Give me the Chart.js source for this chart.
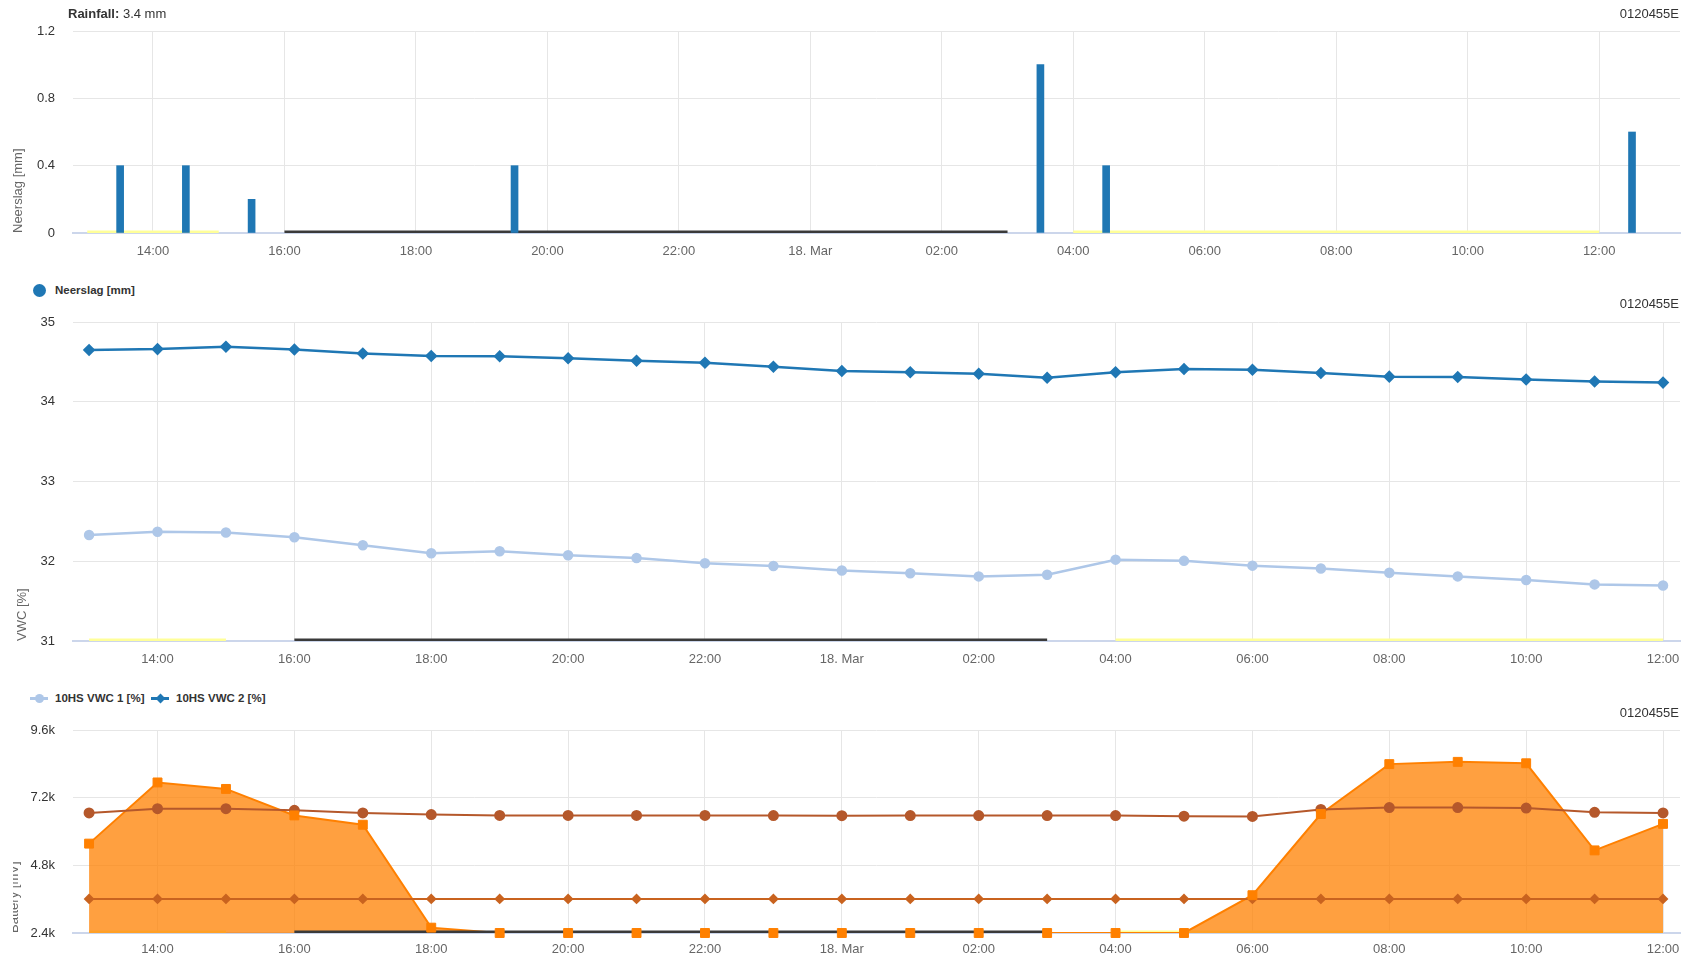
<!DOCTYPE html>
<html>
<head>
<meta charset="utf-8">
<script src="https://cdn.jsdelivr.net/npm/chart.js@4.4.1/dist/chart.umd.min.js"></script>
<style>
  body { margin: 0; background: #fff; width: 1692px; height: 962px; overflow: hidden; position: relative;
         font-family: "Liberation Sans", Arial, sans-serif; }
  canvas { position: absolute; }
  .txt { position: absolute; font-size: 13px; color: #333; line-height: 16px; white-space: nowrap; z-index: 2; }
  .sid { right: 13px; }
  .leg { position: absolute; font-size: 11.5px; font-weight: bold; color: #333; line-height: 14px; white-space: nowrap; z-index: 2; }
  .sym { position: absolute; z-index: 2; }
</style>
</head>
<body>
<canvas id="rain" width="1692" height="275" style="left:0;top:0"></canvas>
<canvas id="vwc" width="1692" height="375" style="left:0;top:300px"></canvas>
<canvas id="batt" width="1679" height="250" style="left:13px;top:712px"></canvas>

<div class="txt" style="left:68px;top:6px"><b>Rainfall:</b> 3.4 mm</div>
<div class="txt sid" style="top:6px">0120455E</div>
<div class="txt sid" style="top:296px">0120455E</div>
<div class="txt sid" style="top:705px">0120455E</div>

<div id="legend1"></div>
<div id="legend2"></div>

<script>
// hours counted from 17 Mar 00:00, so 24 = 18. Mar 00:00
var hours = [13, 14, 15, 16, 17, 18, 19, 20, 21, 22, 23, 24, 25, 26, 27, 28, 29, 30, 31, 32, 33, 34, 35, 36];
var tickHours = [14, 16, 18, 20, 22, 24, 26, 28, 30, 32, 34, 36];
var tickLabels = ['14:00', '16:00', '18:00', '20:00', '22:00', '18. Mar', '02:00', '04:00', '06:00', '08:00', '10:00', '12:00'];

// rainfall
var rainHours = [13.5, 14.5, 15.5, 19.5, 27.5, 28.5, 36.5];
var rainMm = [0.4, 0.4, 0.2, 0.4, 1.0, 0.4, 0.6];
var rainTicks = [0, 0.4, 0.8, 1.2];
var rainLabels = ['0', '0.4', '0.8', '1.2'];

// soil moisture
var vwc1 = [32.33, 32.37, 32.36, 32.30, 32.20, 32.10, 32.125, 32.075, 32.04, 31.975, 31.94, 31.885, 31.85, 31.81, 31.83, 32.02, 32.005, 31.945, 31.91, 31.855, 31.81, 31.765, 31.71, 31.695];
var vwc2 = [34.65, 34.66, 34.69, 34.655, 34.605, 34.575, 34.57, 34.545, 34.515, 34.49, 34.44, 34.385, 34.37, 34.35, 34.30, 34.37, 34.41, 34.40, 34.36, 34.315, 34.31, 34.28, 34.255, 34.24];
var vwcTicks = [31, 32, 33, 34, 35];
var vwcLabels = ['31', '32', '33', '34', '35'];

// battery / solar
var solar = [5570, 7740, 7510, 6570, 6240, 2590, 2400, 2400, 2400, 2400, 2400, 2400, 2400, 2400, 2400, 2400, 2400, 3740, 6620, 8390, 8470, 8420, 5330, 6270];
var battery = [6660, 6810, 6810, 6750, 6660, 6600, 6570, 6570, 6570, 6570, 6565, 6560, 6565, 6565, 6565, 6565, 6545, 6535, 6780, 6850, 6850, 6830, 6680, 6660];
var battery2 = [3610, 3610, 3610, 3610, 3610, 3610, 3610, 3610, 3610, 3610, 3610, 3610, 3610, 3610, 3610, 3610, 3610, 3610, 3610, 3610, 3610, 3610, 3610, 3610];
var mvTicks = [2400, 4800, 7200, 9600];
var mvLabels = ['2.4k', '4.8k', '7.2k', '9.6k'];

// day / night markers along the bottom
var daySpans = [[13, 15], [28, 36]];
var nightSpans = [[16, 27]];

var legendItems1 = [{name: 'Neerslag [mm]', color: '#1f77b4', marker: 'circle'}];
var legendItems2 = [{name: '10HS VWC 1 [%]', color: '#aec7e8', marker: 'circle'},
                    {name: '10HS VWC 2 [%]', color: '#1f77b4', marker: 'diamond'}];

Chart.defaults.font.family = '"Liberation Sans", Arial, sans-serif';
Chart.defaults.animation = false;
Chart.defaults.devicePixelRatio = 1;

function points(xs, ys) {
    return xs.map(function (x, i) { return {x: x, y: ys[i]}; });
}

function spanPoints(spans, level) {
    var out = [];
    spans.forEach(function (s, i) {
        if (i > 0) out.push({x: s[0], y: null});
        out.push({x: s[0], y: level});
        out.push({x: s[1], y: level});
    });
    return out;
}

function bandLine(spans, level, color, order) {
    return {
        type: 'line', data: spanPoints(spans, level), borderColor: color, borderWidth: 5,
        pointRadius: 0, spanGaps: false, order: order, clip: 0
    };
}

function xScale(min, max, h, pad) {
    return {
        type: 'linear', min: min, max: max, offset: false,
        afterBuildTicks: function (s) { s.ticks = tickHours.map(function (v) { return {value: v}; }); },
        afterFit: function (s) { s.height = h; },
        grid: {color: '#e6e6e6', drawTicks: false, offset: false},
        border: {color: '#ccd6eb', width: 2},
        ticks: {
            padding: pad, color: '#666', font: {size: 13}, maxRotation: 0, autoSkip: false,
            callback: function (v, i) { return tickLabels[i]; }
        }
    };
}

function yScale(ticks, labels, w, title, titlePad) {
    return {
        type: 'linear', min: ticks[0], max: ticks[ticks.length - 1],
        afterBuildTicks: function (s) { s.ticks = ticks.map(function (v) { return {value: v}; }); },
        afterFit: function (s) {
            s.width = w;
            // label padding must not push the plot area down
            s.paddingTop = 0;
            s.paddingBottom = 0;
        },
        grid: {color: '#e6e6e6', drawTicks: false},
        border: {display: false},
        ticks: {
            padding: 18, color: '#333', font: {size: 13},
            callback: function (v, i) { return labels[i]; }
        },
        title: {
            display: true, text: title, align: 'start', color: '#666', font: {size: 13},
            padding: {top: titlePad, bottom: 0}
        }
    };
}

var noPlugins = {legend: {display: false}, tooltip: {enabled: false}};

new Chart(document.getElementById('rain'), {
    type: 'bar',
    data: {
        datasets: [
            {
                type: 'bar', data: points(rainHours, rainMm), backgroundColor: '#1f77b4',
                barThickness: 7, grouped: false, order: 0
            },
            bandLine(daySpans, rainTicks[0], '#ffff99', 2),
            bandLine(nightSpans, rainTicks[0], '#3a3a3a', 1)
        ]
    },
    options: {
        responsive: false,
        layout: {padding: {top: 31, left: 0, right: 12, bottom: 0}},
        plugins: noPlugins,
        scales: {
            x: xScale(12.783, 37.23, 42, 11),
            y: yScale(rainTicks, rainLabels, 73, 'Neerslag [mm]', 10.2)
        }
    }
});

new Chart(document.getElementById('vwc'), {
    type: 'line',
    data: {
        datasets: [
            {
                data: points(hours, vwc2), borderColor: '#1f77b4', backgroundColor: '#1f77b4',
                borderWidth: 2.5, pointStyle: 'rectRot', pointRadius: 4.5, tension: 0, order: 0
            },
            {
                data: points(hours, vwc1), borderColor: '#aec7e8', backgroundColor: '#aec7e8',
                borderWidth: 2.5, pointStyle: 'circle', pointRadius: 4, tension: 0, order: 1
            },
            bandLine(daySpans, vwcTicks[0], '#ffff99', 3),
            bandLine(nightSpans, vwcTicks[0], '#3a3a3a', 2)
        ]
    },
    options: {
        responsive: false,
        layout: {padding: {top: 22, left: 0, right: 12, bottom: 0}},
        plugins: noPlugins,
        scales: {
            x: xScale(12.765, 36.248, 34, 11),
            y: yScale(vwcTicks, vwcLabels, 73, 'VWC [%]', 14.2)
        }
    }
});

new Chart(document.getElementById('batt'), {
    type: 'line',
    data: {
        datasets: [
            {
                data: points(hours, solar), borderColor: '#ff8000', backgroundColor: 'rgba(255,128,0,0.75)',
                fill: 'start', borderWidth: 2, pointRadius: 0, tension: 0, order: 6
            },
            bandLine(daySpans, mvTicks[0], '#ffff99', 7),
            bandLine(nightSpans, mvTicks[0], '#3a3a3a', 5),
            {
                data: points(hours, battery), borderColor: '#b5582b', backgroundColor: '#b5582b',
                borderWidth: 2, pointStyle: 'circle', pointRadius: 4.5, tension: 0, order: 3
            },
            {
                data: points(hours, battery2), borderColor: '#c9631f', backgroundColor: '#c9631f',
                borderWidth: 2, pointStyle: 'rectRot', pointRadius: 4, tension: 0, order: 2
            },
            {
                data: points(hours, solar), showLine: false, borderColor: '#ff8000', backgroundColor: '#ff8000',
                pointStyle: 'rect', pointRadius: 6.3, clip: false, order: 1
            }
        ]
    },
    options: {
        responsive: false,
        layout: {padding: {top: 18, left: 0, right: 12, bottom: 0}},
        plugins: noPlugins,
        scales: {
            x: xScale(12.765, 36.248, 29, 9),
            y: yScale(mvTicks, mvLabels, 60, 'Battery [mV]', -6.5)
        }
    }
});

// html legends, built from the series definitions
function buildLegend(el, items, top, starts) {
    items.forEach(function (it, i) {
        var x = starts[i];
        var html = '';
        if (items.length > 1) {
            html += '<div class="sym" style="left:' + (x - 9) + 'px;top:' + (top - 1) + 'px;width:18px;height:2.5px;background:' + it.color + '"></div>';
        }
        if (it.marker === 'circle') {
            var d = items.length > 1 ? 9 : 13;
            html += '<div class="sym" style="left:' + (x - d / 2) + 'px;top:' + (top - d / 2) + 'px;width:' + d + 'px;height:' + d + 'px;border-radius:50%;background:' + it.color + '"></div>';
        } else {
            html += '<div class="sym" style="left:' + (x - 3.5) + 'px;top:' + (top - 3.5) + 'px;width:7px;height:7px;transform:rotate(45deg);background:' + it.color + '"></div>';
        }
        html += '<div class="leg" style="left:' + (x + 16) + 'px;top:' + (top - 7) + 'px">' + it.name + '</div>';
        el.insertAdjacentHTML('beforeend', html);
    });
}
buildLegend(document.getElementById('legend1'), legendItems1, 290, [39]);
buildLegend(document.getElementById('legend2'), legendItems2, 698, [39, 160]);
</script>
</body>
</html>
